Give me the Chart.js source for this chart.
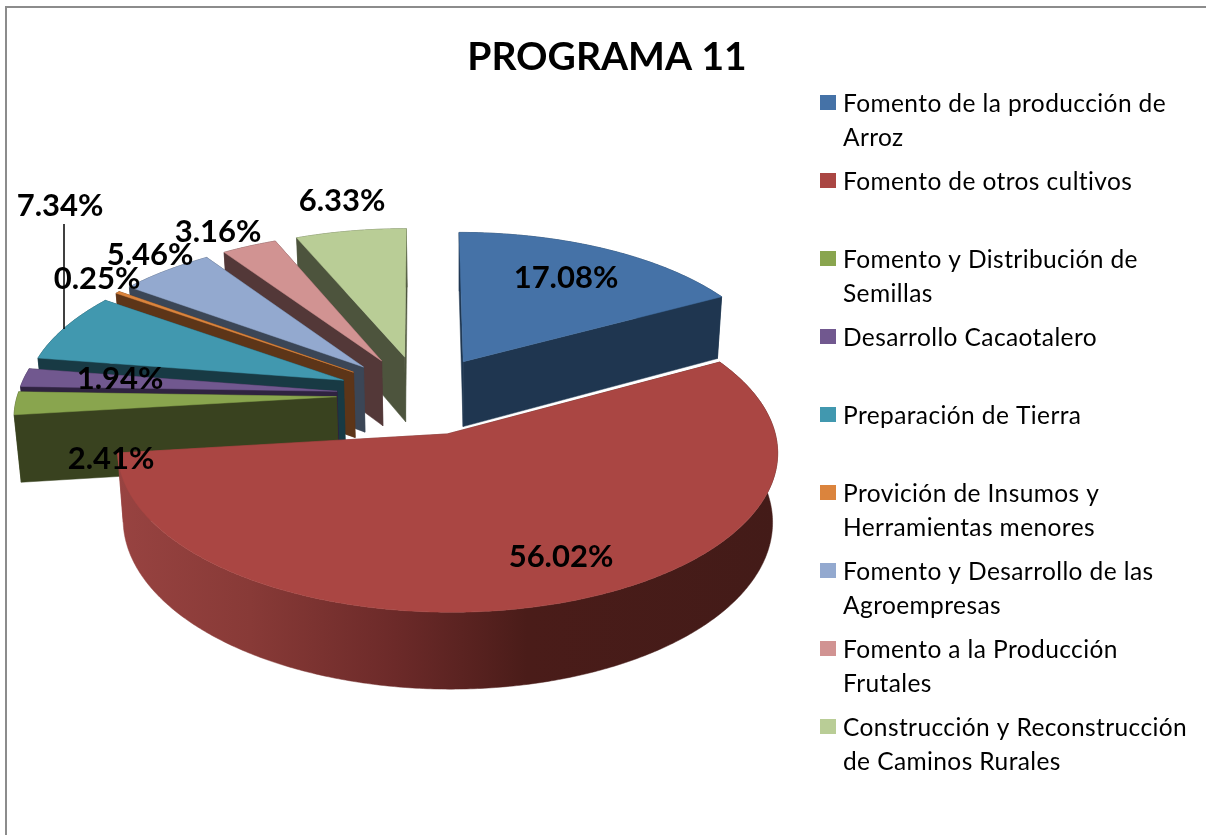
<!DOCTYPE html>
<html lang="es">
<head>
<meta charset="utf-8">
<title>PROGRAMA 11</title>
<script src="https://cdn.jsdelivr.net/npm/chart.js@4"></script>
<style>
html,body{margin:0;padding:0;background:#fff;overflow:hidden}
canvas{display:block}
</style>
</head>
<body>
<canvas id="c" width="1206" height="835"></canvas>
<script>
const chartTitle = "PROGRAMA 11";
const categories = [
  ["Fomento de la producción de", "Arroz"],
  ["Fomento de otros cultivos"],
  ["Fomento y Distribución de", "Semillas"],
  ["Desarrollo Cacaotalero"],
  ["Preparación de Tierra"],
  ["Provición de Insumos y", "Herramientas menores"],
  ["Fomento y Desarrollo de las", "Agroempresas"],
  ["Fomento a la Producción", "Frutales"],
  ["Construcción y Reconstrucción", "de Caminos Rurales"]
];
const values = [17.08, 56.02, 2.41, 1.94, 7.34, 0.25, 5.46, 3.16, 6.33];
const topColors = ["#4572A7","#AA4643","#89A54E","#71588F","#4198AF","#DB843D","#93A9CF","#D19392","#B9CD96"];
const sideColors = ["#1F3650","#431B18","#39421F","#2F2340","#183A44","#5D3518","#3B4656","#533838","#4D543D"];
const labelCenters = [[566,278],[561,557],[111,459],[120,379],[60,206],[97,279],[150,255],[218,232],[342,201]];
const drawOrder = [8,7,6,5,4,3,2,0,1];

const VIEW = {cx:421, cy:395, rx:319, ry:150, k:0.108, depth:66.5, bottomScale:0.984, bottomCx:459};
const LEGEND = {x:820, box:16, textX:843, y:103, step:78, line:34};

function project(u, v, low) {
  const w = 1 + VIEW.k * v;
  let X = VIEW.cx + VIEW.rx * u / w;
  let Y = VIEW.cy - VIEW.ry * v / w;
  if (low) {
    X = VIEW.bottomCx + (X - VIEW.bottomCx) * VIEW.bottomScale;
    Y += VIEW.depth / w;
  }
  return [X, Y];
}
function fillPoly(ctx, pts, fill) {
  ctx.beginPath();
  pts.forEach((p, i) => i ? ctx.lineTo(p[0], p[1]) : ctx.moveTo(p[0], p[1]));
  ctx.closePath();
  ctx.fillStyle = fill;
  ctx.fill();
  ctx.strokeStyle = fill;
  ctx.lineWidth = 0.5;
  ctx.stroke();
}
function sliceGeometry(arc) {
  const p = arc.getProps(['startAngle','endAngle','outerRadius']);
  const r = p.outerRadius, off = arc.options.offset / r;
  const mid = (p.startAngle + p.endAngle) / 2;
  const ou = off * Math.cos(mid), ov = -off * Math.sin(mid);
  const rim = [];
  const n = Math.max(2, Math.ceil((p.endAngle - p.startAngle) / 0.01));
  for (let i = 0; i <= n; i++) {
    const a = p.startAngle + (p.endAngle - p.startAngle) * i / n;
    rim.push([ou + Math.cos(a), ov - Math.sin(a)]);
  }
  return {apex:[ou, ov], rim};
}

const pie3d = {
  id: 'pie3d',
  beforeDraw(chart) {
    const ctx = chart.ctx;
    ctx.save();
    ctx.fillStyle = '#fff';
    ctx.fillRect(0, 0, chart.width, chart.height);
    ctx.strokeStyle = '#8C8C8C';
    ctx.lineWidth = 2;
    ctx.beginPath();
    ctx.moveTo(6, chart.height);
    ctx.lineTo(6, 7);
    ctx.lineTo(chart.width, 7);
    ctx.stroke();
    ctx.restore();
  },
  beforeDatasetDraw(chart, args) {
    const ctx = chart.ctx, arcs = chart.getDatasetMeta(args.index).data;
    ctx.save();
    drawOrder.forEach(i => {
      const g = sliceGeometry(arcs[i]);
      const P = (q, low) => project(q[0], q[1], low);
      const topRim = g.rim.map(q => P(q, false));
      const lowRim = g.rim.map(q => P(q, true));
      let side = sideColors[i];
      if (i === 1) {
        const grad = ctx.createLinearGradient(118, 0, 778, 0);
        grad.addColorStop(0, '#984341');
        grad.addColorStop(0.2, '#883A37');
        grad.addColorStop(0.42, '#6C2A29');
        grad.addColorStop(0.62, '#4A1C19');
        grad.addColorStop(1, '#431B18');
        side = grad;
      }
      fillPoly(ctx, topRim.concat(lowRim.slice().reverse()), side);
      const apexT = P(g.apex, false), apexL = P(g.apex, true);
      fillPoly(ctx, [apexT, topRim[topRim.length-1], lowRim[lowRim.length-1], apexL], side);
      fillPoly(ctx, [apexT, topRim[0], lowRim[0], apexL], side);
      fillPoly(ctx, [apexT].concat(topRim), topColors[i]);
    });
    ctx.restore();
    return false;
  },
  afterDatasetsDraw(chart) {
    const ctx = chart.ctx;
    ctx.save();
    ctx.strokeStyle = '#000';
    ctx.lineWidth = 1.5;
    ctx.beginPath();
    ctx.moveTo(64, 224);
    ctx.lineTo(64, 329);
    ctx.stroke();
    ctx.fillStyle = '#000';
    ctx.font = 'bold 31px Lato';
    ctx.textAlign = 'center';
    ctx.textBaseline = 'middle';
    values.forEach((v, i) => ctx.fillText(v.toFixed(2) + '%', labelCenters[i][0], labelCenters[i][1]));
    ctx.textAlign = 'left';
    ctx.font = '24.5px Lato';
    ctx.letterSpacing = '0.4px';
    categories.forEach((lines, i) => {
      const y = LEGEND.y + i * LEGEND.step;
      ctx.fillStyle = topColors[i];
      ctx.fillRect(LEGEND.x, y - 8, LEGEND.box, LEGEND.box - 1);
      ctx.fillStyle = '#000';
      lines.forEach((t, j) => ctx.fillText(t, LEGEND.textX, y + 1 + j * LEGEND.line));
    });
    ctx.restore();
  }
};

new Chart(document.getElementById('c'), {
  type: 'pie',
  data: {
    labels: categories.map(l => l.join(' ')),
    datasets: [{data: values, backgroundColor: topColors, borderWidth: 0, offset: 88.2}]
  },
  options: {
    responsive: false,
    animation: false,
    events: [],
    layout: {padding: {left: 8}},
    plugins: {
      legend: {display: false},
      tooltip: {enabled: false},
      title: {
        display: true,
        text: chartTitle,
        color: '#000',
        font: {family: 'Lato', size: 39, weight: 'bold'},
        padding: {top: 34, bottom: 0}
      }
    }
  },
  plugins: [pie3d]
});
</script>
</body>
</html>
